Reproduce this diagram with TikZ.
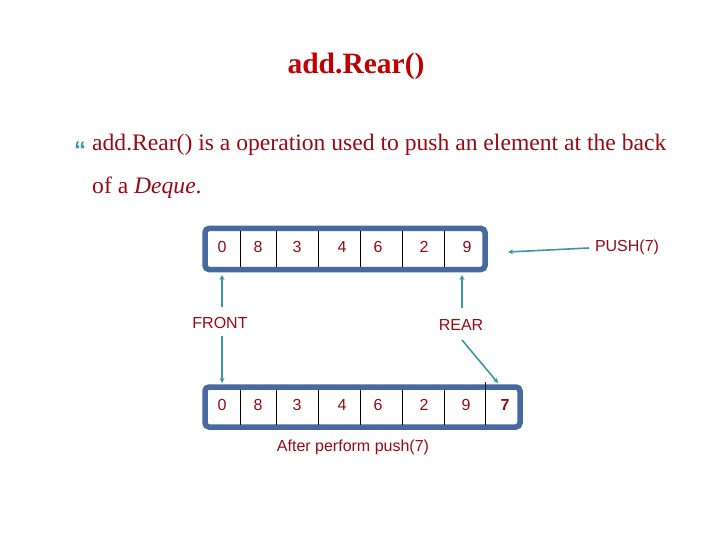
\documentclass[tikz,border=0pt]{standalone}
\usepackage{fontspec}
\setmainfont{Liberation Serif}
\setsansfont{Liberation Sans}
\usetikzlibrary{arrows.meta}
\definecolor{titlered}{RGB}{192,0,0}
\definecolor{txtred}{RGB}{150,10,20}
\definecolor{boxblue}{RGB}{70,106,160}
\definecolor{teal}{RGB}{60,150,170}
\tikzset{
  x=1pt,y=-1pt,
  dequebox/.style={draw=boxblue,line width=5.5pt,rounded corners=4pt,fill=white},
  divider/.style={draw=black,line width=0.8pt},
  num/.style={font=\sffamily\fontsize{16}{18}\selectfont,text=txtred,inner sep=0pt},
  lab/.style={font=\sffamily\fontsize{16}{18}\selectfont,text=txtred,inner sep=0pt},
  conn/.style={draw=teal,line width=1.6pt,-{Stealth[length=5pt,width=5pt]}},
}
\begin{document}
\begin{tikzpicture}
\useasboundingbox (0,0) rectangle (720,540);
% title
\node[font=\bfseries\fontsize{29.5}{32}\selectfont,text=titlered] (title) at (356,66) {add.Rear()};
% bullet text
\node[font=\sffamily\bfseries\fontsize{24}{26}\selectfont,text=teal,inner sep=0pt] (bullet) at (80,150) {“};
\node[font=\fontsize{23.6}{26}\selectfont,text=txtred,anchor=base west,inner sep=0pt] (line1) at (92,151) {add.Rear() is a operation used to push an element at the back};
\node[font=\fontsize{23.6}{26}\selectfont,text=txtred,anchor=base west,inner sep=0pt] (line2) at (92,194) {of a \textit{Deque}.};
% top deque
\draw[dequebox] (205,228.5) rectangle (485,269.5);
\foreach \x in {240,276,318,360,402,444} \draw[divider] (\x,231) -- (\x,267);
\foreach \v/\x [count=\i] in {0/222,8/258,3/297,4/342,6/378,2/424,9/467}
  \node[num] (t\i) at (\x,247) {\v};
% bottom deque
\draw[dequebox] (205,387) rectangle (520,427);
\foreach \x in {240,276,318,360,402,444} \draw[divider] (\x,389.5) -- (\x,424.5);
\draw[divider] (485,382) -- (485,424.5);
\foreach \v/\x [count=\i] in {0/222,8/258,3/297,4/342,6/378,2/424,9/466}
  \node[num] (b\i) at (\x,405) {\v};
\node[num,font=\sffamily\bfseries\fontsize{16}{18}\selectfont] (b8) at (505,405) {7};
% labels
\node[lab] (front) at (220,323) {FRONT};
\node[lab] (rear) at (461,325) {REAR};
\node[lab] (push) at (627,247) {PUSH(7)};
\node[lab] (after) at (353,447) {After perform push(7)};
% connectors
\coordinate (fu) at (222,275);
\coordinate (fd) at (222,383);
\coordinate (ru) at (462,275);
\coordinate (rd) at (498,383);
\coordinate (pe) at (508,252);
\coordinate (fs1) at (222,307);
\coordinate (fs2) at (222,336);
\coordinate (rs1) at (462,308);
\coordinate (rs2) at (462,340);
\coordinate (ps) at (589,248);
\draw[conn] (fs1) -- (fu);
\draw[conn] (fs2) -- (fd);
\draw[conn] (rs1) -- (ru);
\draw[conn] (rs2) -- (rd);
\draw[conn] (ps) -- (pe);
\end{tikzpicture}
\end{document}
